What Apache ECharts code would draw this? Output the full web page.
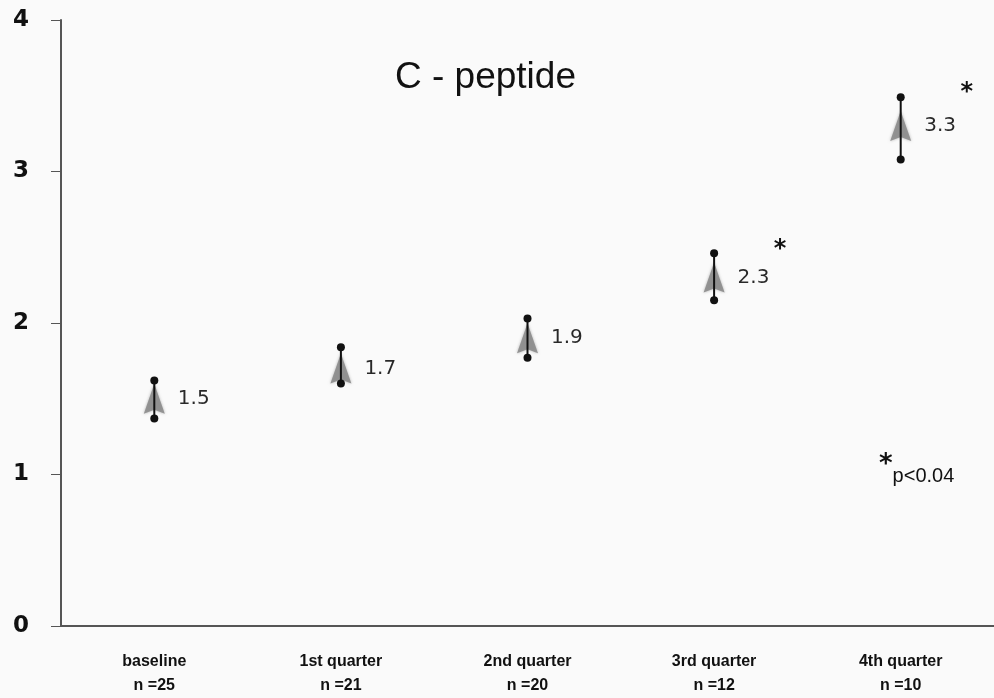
<!DOCTYPE html>
<html>
<head>
<meta charset="utf-8">
<script src="https://cdn.jsdelivr.net/npm/echarts@6/dist/echarts.min.js"></script>
<style>
  html, body { margin: 0; padding: 0; background: #fafafa; }
  #container { width: 994px; height: 698px; }
</style>
</head>
<body>
<div id="container"></div>
<script>
const categories = ['baseline', '1st quarter', '2nd quarter', '3rd quarter', '4th quarter']
const counts = [25, 21, 20, 12, 10]
const means = [1.5, 1.7, 1.9, 2.3, 3.3]
const lows = [1.37, 1.6, 1.77, 2.15, 3.08]
const highs = [1.62, 1.84, 2.03, 2.46, 3.49]
const significant = [false, false, false, true, true]

const dom = document.getElementById('container')
const myChart = echarts.init(dom)

const arrowPath = 'path://M0,0 L11,30 L0,26 L-11,30 Z'

const errorData = means.map((m, i) => [i, lows[i], highs[i]])
const starData = []
highs.forEach((h, i) => {
  if (significant[i]) starData.push([i, h])
})

const renderError = (params, api) => {
  const x = api.value(0)
  const lo = api.coord([x, api.value(1)])
  const hi = api.coord([x, api.value(2)])
  return {
    type: 'group',
    children: [
      { type: 'line', shape: { x1: lo[0], y1: lo[1], x2: hi[0], y2: hi[1] }, style: { stroke: '#111', lineWidth: 2 } },
      { type: 'circle', shape: { cx: lo[0], cy: lo[1], r: 4 }, style: { fill: '#111' } },
      { type: 'circle', shape: { cx: hi[0], cy: hi[1], r: 4 }, style: { fill: '#111' } }
    ]
  }
}

const renderStar = (params, api) => {
  const pt = api.coord([api.value(0), api.value(1)])
  return {
    type: 'text',
    x: pt[0] + 66,
    y: pt[1] - 4,
    style: {
      text: '*',
      fill: '#111',
      fontFamily: 'DejaVu Sans',
      fontWeight: 'bold',
      fontSize: 24,
      align: 'center',
      verticalAlign: 'middle'
    }
  }
}

const option = {
  backgroundColor: '#fafafa',
  animation: false,
  title: {
    text: 'C - peptide',
    left: 390,
    top: 54,
    textStyle: { fontFamily: 'Liberation Sans', fontSize: 37, fontWeight: 'normal', color: '#111' }
  },
  grid: { left: 61, right: 0, top: 20, bottom: 72 },
  xAxis: {
    type: 'category',
    data: categories.map((c, i) => c + '\nn=' + counts[i]),
    axisLine: { lineStyle: { color: '#555', width: 2 } },
    axisTick: { show: false },
    axisLabel: {
      margin: 24,
      lineHeight: 24,
      color: '#111',
      fontFamily: 'Liberation Sans',
      fontWeight: 'bold',
      fontSize: 16,
      formatter: v => v.replace('n=', 'n =')
    }
  },
  yAxis: {
    type: 'value',
    min: 0,
    max: 4,
    interval: 1,
    splitLine: { show: false },
    axisLine: { show: true, lineStyle: { color: '#555', width: 2 } },
    axisTick: { show: true, length: 10, lineStyle: { color: '#555', width: 1 } },
    axisLabel: { margin: 32, color: '#111', fontFamily: 'DejaVu Sans', fontWeight: 'bold', fontSize: 23 }
  },
  graphic: [
    {
      type: 'text',
      left: 879,
      top: 452,
      style: {
        text: '{s|*}{t|p<0.04}',
        rich: {
          s: { fontSize: 26, fontWeight: 'bold', fontFamily: 'DejaVu Sans', fill: '#111', verticalAlign: 'top' },
          t: { fontSize: 20, fontFamily: 'Liberation Sans', fill: '#111', padding: [14, 0, 0, 0] }
        }
      }
    }
  ],
  series: [
    {
      type: 'scatter',
      data: means.map((m, i) => [i, m]),
      symbol: arrowPath,
      symbolSize: [21, 30],
      itemStyle: { color: '#8c8c8c', opacity: 0.9, shadowBlur: 3, shadowColor: 'rgba(120,120,120,0.6)' },
      label: {
        show: true,
        position: 'right',
        distance: 13,
        formatter: p => p.value[1].toFixed(1),
        color: '#111',
        fontFamily: 'DejaVu Sans',
        fontSize: 20
      },
      z: 2
    },
    {
      type: 'custom',
      data: errorData,
      renderItem: renderError,
      z: 3
    },
    {
      type: 'custom',
      data: starData,
      renderItem: renderStar,
      z: 4
    }
  ]
}

myChart.setOption(option, true)
</script>
</body>
</html>
